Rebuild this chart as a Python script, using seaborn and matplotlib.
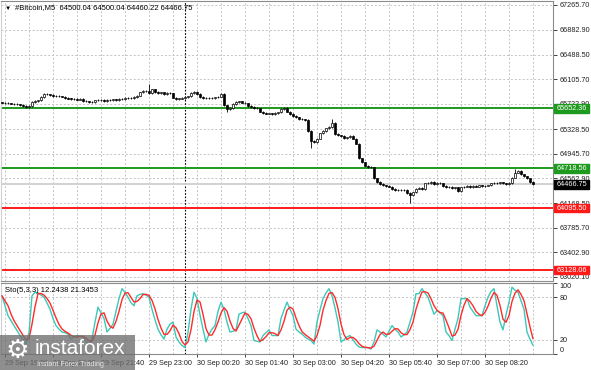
import numpy as np
import pandas as pd
import matplotlib
matplotlib.use("Agg")
import matplotlib.pyplot as plt
import seaborn as sns
from matplotlib.patches import Rectangle


symbol_title = "#Bitcoin,M5  64500.04 64500.04 64460.22 64466.75"
stoch_title = "Sto(5,3,3) 12.2438 21.3453"

# M5 closes, 29 Sep 18:55 -> 30 Sep 09:40
first_open = 65745
closes = [
    65740, 65735, 65730, 65725, 65720, 65715, 65705, 65690, 65675, 65685,
    65750, 65770, 65775, 65830, 65880, 65870, 65860, 65845, 65850, 65840,
    65835, 65815, 65805, 65800, 65795, 65790, 65800, 65770, 65760, 65750,
    65755, 65775, 65785, 65780, 65770, 65780, 65785, 65790, 65785, 65800,
    65795, 65810, 65820, 65815, 65830, 65850, 65900, 65920, 65930, 65890,
    65950, 65910, 65890, 65900, 65880, 65895, 65885, 65820, 65800, 65805,
    65815, 65830, 65840, 65890, 65910, 65880, 65830, 65815, 65810, 65820,
    65815, 65825, 65835, 65880, 65700, 65640, 65660, 65720, 65750, 65760,
    65740, 65730, 65690, 65670, 65660, 65650, 65600, 65580, 65570, 65575,
    65565, 65580, 65590, 65640, 65660, 65600, 65560, 65530, 65510, 65490,
    65480, 65470, 65300, 65150, 65120, 65180, 65260, 65300, 65340, 65360,
    65420, 65250, 65230, 65220, 65190, 65200, 65220, 65180, 65100, 64870,
    64810, 64760, 64740, 64730, 64560, 64500, 64470, 64450, 64440, 64430,
    64390, 64380, 64370, 64375, 64380, 64330, 64300, 64340, 64400, 64410,
    64390, 64480, 64490, 64500, 64470, 64490, 64480, 64440, 64420, 64430,
    64410, 64420, 64360, 64420, 64430, 64440, 64425, 64440, 64430, 64450,
    64435, 64445, 64450, 64480, 64490, 64485, 64495, 64480, 64470, 64490,
    64570, 64650, 64680, 64620, 64590, 64560, 64500, 64466.75,
]
wick_highs = {49: 66035, 110: 65480, 171: 64700}
wick_lows = {75: 65600, 103: 65040, 136: 64180}

# stochastic %K
stoch_k = [
    82, 68, 54, 47, 40, 33, 26, 20, 14, 30,
    82, 87, 86, 83, 80, 72, 63, 50, 40, 35,
    31, 30, 28, 21, 24, 26, 25, 24, 18, 14,
    21, 45, 66, 58, 50, 31, 36, 42, 60, 78,
    92, 87, 80, 72, 68, 82, 84, 85, 83, 80,
    63, 48, 35, 27, 21, 35, 42, 45, 24, 17,
    12, 9, 30, 63, 87, 78, 55, 35, 17, 28,
    35, 40, 60, 73, 63, 45, 31, 32, 34, 56,
    58, 59, 50, 40, 19, 18, 17, 26, 30, 34,
    26, 26, 26, 50, 62, 73, 63, 54, 35, 31,
    28, 24, 21, 19, 14, 45, 62, 78, 86, 92,
    82, 65, 45, 17, 20, 24, 26, 20, 14, 10,
    9, 9, 9, 7, 17, 34, 31, 28, 24, 32,
    40, 35, 31, 24, 27, 31, 45, 59, 85, 85,
    92, 86, 80, 68, 56, 61, 58, 54, 31, 26,
    19, 35, 50, 78, 78, 78, 66, 60, 54, 54,
    54, 68, 80, 88, 92, 68, 45, 34, 55, 73,
    94, 90, 87, 75, 63, 31, 20.8, 12.24,
]

price_ticks = [67265.70, 66882.90, 66488.50, 66105.70, 65722.90, 65328.50,
               64945.70, 64562.90, 64168.50, 63785.70, 63402.90, 63020.10]
time_labels = ["29 Sep 19:00", "29 Sep 20:20", "29 Sep 21:40", "29 Sep 23:00",
               "30 Sep 00:20", "30 Sep 01:40", "30 Sep 03:00", "30 Sep 04:20",
               "30 Sep 05:40", "30 Sep 07:00", "30 Sep 08:20"]
green_levels = [65652.36, 64718.56]
red_levels = [64095.50, 63128.06]
last_price = 64466.75
day_start = 61  # candle index of 30 Sep 00:00


sns.set_theme(style="white")
plt.rcParams["font.family"] = ["Liberation Sans", "DejaVu Sans"]

n = len(closes)
idx = np.arange(n)
opens = np.array([first_open] + closes[:-1], dtype=float)
cl = np.array(closes, dtype=float)
highs = np.maximum(opens, cl) + 12
lows = np.minimum(opens, cl) - 12
for k, v in wick_highs.items():
    highs[k] = v
for k, v in wick_lows.items():
    lows[k] = v

W, H = 591, 370
fig = plt.figure(figsize=(W / 100, H / 100), dpi=100, facecolor="white")


def px_axes(x0, y0, x1, y1):
    return fig.add_axes([x0 / W, 1 - y1 / H, (x1 - x0) / W, (y1 - y0) / H])


ax = px_axes(1, 1, 553, 281)
ax_s = px_axes(1, 283, 553, 354)

grid_kw = dict(color="#c4c4c4", linestyle=(0, (2, 2)), linewidth=0.7)
fs = 5.2

# ---- price panel
for lvl in price_ticks:
    ax.axhline(lvl, zorder=0, **grid_kw)
for xv in np.arange(1, n + 8, 8):
    ax.axvline(xv, zorder=0, **grid_kw)
ax.axvline(day_start, color="black", linestyle=(0, (1.5, 1.5)), linewidth=0.8, zorder=1)

ax.axhline(last_price, color="#cfcfcf", linewidth=1.3, zorder=1)
for lvl in green_levels:
    ax.axhline(lvl, color="#1e9a1e", linewidth=1.4, zorder=2)
for lvl in red_levels:
    ax.axhline(lvl, color="#ff1a1a", linewidth=1.4, zorder=2)

ax.vlines(idx, lows, highs, color="black", linewidth=0.6, zorder=3)
bull = cl >= opens
body_lo = np.minimum(opens, cl)
body_h = np.maximum(np.abs(cl - opens), 6)
ax.bar(idx, body_h, bottom=body_lo, width=0.62,
       color=np.where(bull, "white", "black"), edgecolor="black",
       linewidth=0.5, zorder=4)

ax.set_xlim(-1 / 3, 184 - 1 / 3)
ax.set_ylim(62957, 67328)
ax.yaxis.tick_right()
ax.set_yticks(price_ticks)
ax.set_yticklabels([f"{v:.2f}" for v in price_ticks])
ax.tick_params(axis="y", length=3, width=0.6, pad=1.5, labelsize=fs,
               colors="#222222", right=True, left=False)
ax.set_xticks([])
for side, sp in ax.spines.items():
    sp.set_color("#8c8c8c" if side in ("right", "bottom", "top") else "#d0d0d0")
    sp.set_linewidth(0.8)

ytr = ax.get_yaxis_transform()
boxes = [(v, "#1e9a1e") for v in green_levels] + [(v, "#ff1a1a") for v in red_levels] + [(last_price, "black")]
for lvl, col in boxes:
    ax.add_patch(Rectangle((1.002, lvl - 68), 0.064, 136, transform=ytr,
                           facecolor=col, edgecolor=col, clip_on=False, zorder=6))
    ax.text(1.007, lvl, f"{lvl:.2f}", transform=ytr, color="white", fontsize=fs,
            va="center", ha="left", zorder=7, clip_on=False)

fig.text(5 / W, 1 - 8 / H, "▼", fontsize=4.5, color="black", va="center")
fig.text(15 / W, 1 - 8 / H, symbol_title, fontsize=fs + 0.3, color="black", va="center")

# ---- stochastic panel
stoch_d = pd.Series(stoch_k).rolling(3, min_periods=1).mean()
for lvl in (20, 80):
    ax_s.axhline(lvl, zorder=0, **grid_kw)
for xv in np.arange(1, n + 8, 8):
    ax_s.axvline(xv, zorder=0, **grid_kw)
ax_s.axvline(day_start, color="black", linestyle=(0, (1.5, 1.5)), linewidth=0.8, zorder=1)
sns.lineplot(x=idx, y=stoch_k, ax=ax_s, color="#3cc8b8", linewidth=1.0, zorder=3)
sns.lineplot(x=idx, y=stoch_d.values, ax=ax_s, color="#ff2a2a", linewidth=1.0, zorder=4)
ax_s.set_xlim(ax.get_xlim())
ax_s.set_ylim(0, 100)
ax_s.yaxis.tick_right()
ax_s.set_yticks([0, 20, 80, 100])
ax_s.set_yticklabels(["0", "20", "80", "100"])
ax_s.tick_params(axis="y", length=3, width=0.6, pad=1.5, labelsize=fs,
                 colors="#222222", right=True, left=False)
ylabs = ax_s.get_yticklabels()
ylabs[0].set_va("bottom")
ylabs[-1].set_va("top")
time_pos = 1 + 16 * np.arange(len(time_labels))
ax_s.set_xticks(time_pos)
ax_s.set_xticklabels(time_labels, ha="left")
ax_s.tick_params(axis="x", length=2, width=0.6, pad=2, labelsize=fs,
                 colors="#222222", bottom=True)
ax_s.set_xlabel("")
ax_s.set_ylabel("")
for side, sp in ax_s.spines.items():
    sp.set_color("#8c8c8c" if side in ("right", "bottom", "top") else "#d0d0d0")
    sp.set_linewidth(0.8)
ax_s.text(0.008, 0.9, stoch_title, transform=ax_s.transAxes, fontsize=fs + 0.3,
          color="black", va="center", ha="left")

# ---- watermark
fig.patches.append(Rectangle((0, 0), 135 / W, 35 / H, transform=fig.transFigure,
                             facecolor="#6f6f6f", alpha=0.78, edgecolor="none", zorder=10))
fig.text(17 / W, 1 - 351 / H, "⚙", fontsize=19, color="white", ha="center", va="center", zorder=11)
fig.text(35 / W, 1 - 349 / H, "instaforex", fontsize=15, color="white", ha="left", va="center", zorder=11)
fig.text(37 / W, 1 - 364 / H, "Instant Forex Trading", fontsize=5, color="#e8e8e8",
         ha="left", va="center", zorder=11)

fig.savefig("out.png", dpi=100, facecolor="white")
